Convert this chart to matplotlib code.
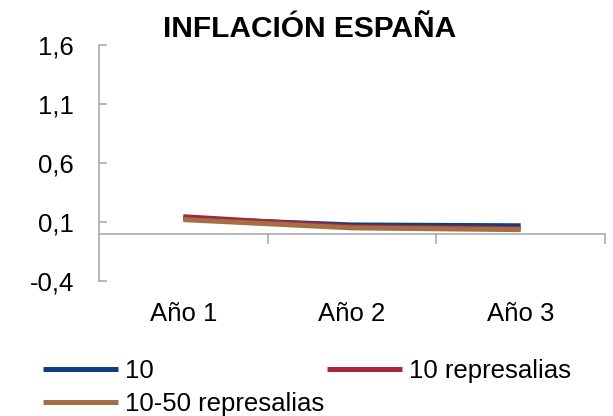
import matplotlib
matplotlib.use("Agg")
import matplotlib.pyplot as plt

categories = ["Año 1", "Año 2", "Año 3"]
serie_10 = [0.13, 0.075, 0.068]
serie_10_repr = [0.145, 0.06, 0.045]
serie_10_50_repr = [0.12, 0.05, 0.035]
series_names = ["10", "10 represalias", "10-50 represalias"]
yticks = [-0.4, 0.1, 0.6, 1.1, 1.6]
ytick_labels = ["-0,4", "0,1", "0,6", "1,1", "1,6"]
title = "INFLACIÓN ESPAÑA"

colors = ["#0E3F80", "#A3283A", "#A66E44"]
plt.rcParams['font.family'] = ['Liberation Sans', 'DejaVu Sans']
fs = 18.5

fig = plt.figure(figsize=(6.13, 4.16), dpi=100)
ax = fig.add_axes([99/613, 1-281/416, 506/613, 236/416])

x = list(range(len(categories)))
lines = []
for vals, c, name in zip([serie_10, serie_10_repr, serie_10_50_repr], colors, series_names):
    l, = ax.plot(x, vals, color=c, lw=3.6, solid_capstyle='butt', label=name)
    lines.append(l)

ax.set_xlim(-0.5, len(categories) - 0.5)
ax.set_ylim(yticks[0], yticks[-1])

grey = "#a6a6a6"
for s in ["top", "right"]:
    ax.spines[s].set_visible(False)
ax.spines["left"].set_color(grey)
ax.spines["left"].set_linewidth(1.1)
ax.spines["bottom"].set_color(grey)
ax.spines["bottom"].set_linewidth(1.1)
ax.spines["bottom"].set_position(("data", 0))

ax.set_yticks(yticks)
ax.set_yticklabels(ytick_labels)
ax.tick_params(axis="y", direction="in", length=5.5, width=1.1, color=grey, pad=18, labelsize=fs)

ax.set_xticks(x)
ax.set_xticklabels(categories)
ax.set_xticks([i + 0.5 for i in x], minor=True)
ax.tick_params(axis="x", which="major", length=0, pad=49, labelsize=fs)
ax.tick_params(axis="x", which="minor", direction="out", length=7.5, width=1.1, color=grey)

fig.text(310/613, 1-29/416, title, ha="center", va="center", fontsize=21.5, fontweight="bold")

handles = [lines[0], lines[2], lines[1]]
labels = [series_names[0], series_names[2], series_names[1]]
fig.legend(handles, labels, ncol=2, loc="upper left", bbox_to_anchor=(43/613, 1-359/416),
           frameon=False, fontsize=fs, handlelength=2.9, handletextpad=0.3,
           columnspacing=0.1, labelspacing=0.35, borderpad=0, borderaxespad=0)

fig.savefig("out.png", dpi=100)
